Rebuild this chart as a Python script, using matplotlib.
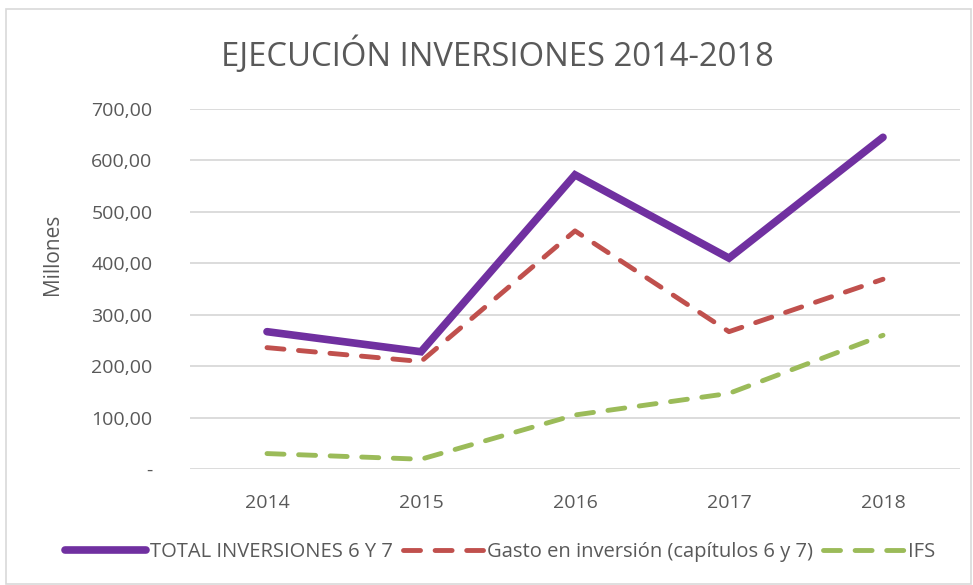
import matplotlib.pyplot as plt
from matplotlib.patches import Rectangle
from matplotlib.ticker import FuncFormatter

years = ['2014', '2015', '2016', '2017', '2018']
total_inv = [267, 228, 572, 410, 645]
gasto_inv = [236, 209, 463, 267, 369]
ifs = [30, 19, 105, 147, 260]

plt.rcParams['font.family'] = ['Open Sans', 'DejaVu Sans']
gris = '#595959'

fig = plt.figure(figsize=(9.73, 5.85), dpi=100)
ax = fig.add_axes([190 / 973, 1 - 469 / 585, 770 / 973, 360 / 585])

x = list(range(len(years)))
ax.plot(x, total_inv, color='#7030A0', lw=5.5, solid_capstyle='round',
        solid_joinstyle='miter', label='TOTAL INVERSIONES 6 Y 7')
ax.plot(x, gasto_inv, color='#C0504D', lw=3.5, dashes=(3.5, 3),
        dash_capstyle='round', label='Gasto en inversión (capítulos 6 y 7)')
ax.plot(x, ifs, color='#9BBB59', lw=3.5, dashes=(3.5, 3),
        dash_capstyle='round', label='IFS')

ax.set_xlim(-0.5, len(years) - 0.5)
ax.set_ylim(0, 700)
ax.set_yticks(range(0, 701, 100))
ax.yaxis.set_major_formatter(FuncFormatter(
    lambda v, p: '-' if v == 0 else f'{v:,.2f}'.replace('.', '#').replace(',', '.').replace('#', ',')))
ax.set_xticks(x)
ax.set_xticklabels(years)
ax.grid(axis='y', color='#D9D9D9', lw=1.3)
ax.set_axisbelow(True)
for s in ax.spines.values():
    s.set_visible(False)
ax.tick_params(length=0, colors=gris, labelsize=14, pad=27)
ax.tick_params(axis='x', pad=18)

fig.text(52 / 973, 1 - 254 / 585, 'Millones', rotation=90, ha='center', va='center',
         fontsize=15, color=gris)
fig.text(497 / 973, 1 - 55 / 585, 'EJECUCIÓN INVERSIONES 2014-2018', ha='center', va='center',
         fontsize=23.6, color=gris)

leg = ax.legend(loc='center', bbox_to_anchor=(500 / 973, 1 - 552 / 585), bbox_transform=fig.transFigure,
                ncol=3, frameon=False, fontsize=14.5, handlelength=4, columnspacing=0.5,
                handletextpad=0.2, labelcolor=gris)

fig.patches.append(Rectangle((6 / 973, 0.002), 965 / 973, 1 - 9 / 585 - 0.002, transform=fig.transFigure,
                             fill=False, edgecolor='#D9D9D9', lw=1.2))

fig.savefig('out.png', dpi=100)
